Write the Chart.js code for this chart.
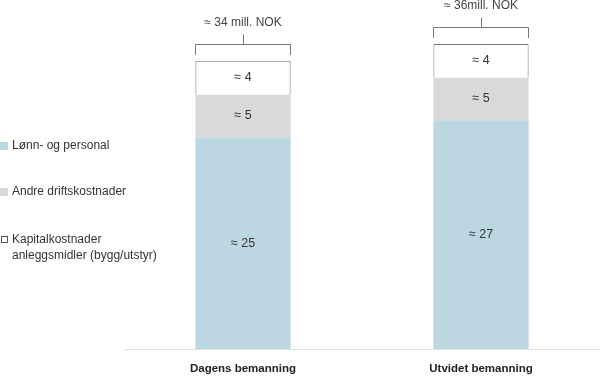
<!DOCTYPE html>
<html>
<head>
<meta charset="utf-8">
<script src="https://cdn.jsdelivr.net/npm/chart.js@4"></script>
<style>
  html, body { margin: 0; padding: 0; background: #fff; }
  #wrap { width: 600px; height: 376px; }
</style>
</head>
<body>
<div id="wrap"><canvas id="costChart"></canvas></div>
<script>
const categories = ["Dagens bemanning", "Utvidet bemanning"];
const lonnData = [25, 27];
const andreData = [5, 5];
const kapitalData = [4, 4];
const totalLabels = ["≈ 34 mill. NOK", "≈ 36mill. NOK"];
const legendLabels = [
  ["Lønn- og personal"],
  ["Andre driftskostnader"],
  ["Kapitalkostnader", "anleggsmidler (bygg/utstyr)"],
];

const FONT = "'Liberation Sans', Arial, sans-serif";

// values inside the segments + brackets with totals above
const overlayPlugin = {
  id: "overlay",
  afterDatasetsDraw(chart) {
    const ctx = chart.ctx;
    ctx.save();
    ctx.font = "12.5px " + FONT;
    ctx.fillStyle = "#333";
    ctx.textAlign = "center";
    ctx.textBaseline = "middle";
    chart.data.datasets.forEach((ds, i) => {
      chart.getDatasetMeta(i).data.forEach((bar, j) => {
        const mid = (bar.y + bar.base) / 2;
        ctx.fillText("≈ " + ds.data[j], bar.x, mid);
      });
    });

    const topMeta = chart.getDatasetMeta(2);
    ctx.strokeStyle = "#777";
    ctx.lineWidth = 1;
    ctx.font = "12px " + FONT;
    ctx.fillStyle = "#444";
    topMeta.data.forEach((bar, j) => {
      const half = bar.width / 2;
      const x0 = Math.round(bar.x - half) + 0.5;
      const x1 = Math.round(bar.x + half) - 0.5;
      const yb = Math.round(bar.y - 17) + 0.5;
      const cx = Math.round(bar.x) + 0.5;
      ctx.beginPath();
      ctx.moveTo(x0, bar.y - 6);
      ctx.lineTo(x0, yb);
      ctx.lineTo(x1, yb);
      ctx.lineTo(x1, bar.y - 6);
      ctx.moveTo(cx, yb);
      ctx.lineTo(cx, yb - 10);
      ctx.stroke();
      ctx.fillText(totalLabels[j], bar.x, bar.y - 38);
    });

    // legend on the left
    const colors = chart.data.datasets.map((d) => d.backgroundColor);
    const ys = [146, 192, 240];
    ctx.textAlign = "left";
    ctx.font = "12px " + FONT;
    legendLabels.forEach((lines, k) => {
      const y = ys[k];
      if (k === 2) {
        ctx.fillStyle = "#fff";
        ctx.fillRect(1, y - 4, 7, 7);
        ctx.strokeStyle = "#555";
        ctx.strokeRect(1.5, y - 3.5, 6, 6);
      } else {
        ctx.fillStyle = colors[k];
        ctx.fillRect(0, y - 4, 8, 8);
      }
      ctx.fillStyle = "#333";
      lines.forEach((t, n) => ctx.fillText(t, 12, y + n * 16));
    });
    ctx.restore();
  },
};

new Chart(document.getElementById("costChart"), {
  type: "bar",
  data: {
    labels: categories,
    datasets: [
      {
        label: legendLabels[0][0],
        data: lonnData,
        backgroundColor: "#bdd7e2",
        borderWidth: 0,
      },
      {
        label: legendLabels[1][0],
        data: andreData,
        backgroundColor: "#d9d9d9",
        borderWidth: 0,
      },
      {
        label: legendLabels[2].join(" "),
        data: kapitalData,
        backgroundColor: "#ffffff",
        borderColor: "#777",
        borderWidth: { top: 1, left: 1, right: 1, bottom: 0 },
        borderSkipped: false,
      },
    ],
  },
  options: {
    responsive: true,
    maintainAspectRatio: false,
    animation: false,
    layout: { padding: { left: 124, top: 10, right: 0, bottom: 0 } },
    datasets: { bar: { barPercentage: 0.4, categoryPercentage: 1 } },
    scales: {
      x: {
        stacked: true,
        grid: { display: false, drawTicks: false },
        border: { color: "#e0e0e0" },
        afterFit: (scale) => { scale.height = 27; },
        ticks: {
          padding: 13,
          color: "#222",
          font: { family: FONT, size: 11.5, weight: "bold" },
        },
      },
      y: {
        stacked: true,
        display: false,
        min: 0,
        max: 40,
      },
    },
    plugins: {
      legend: { display: false },
      tooltip: { enabled: false },
    },
  },
  plugins: [overlayPlugin],
});
</script>
</body>
</html>
